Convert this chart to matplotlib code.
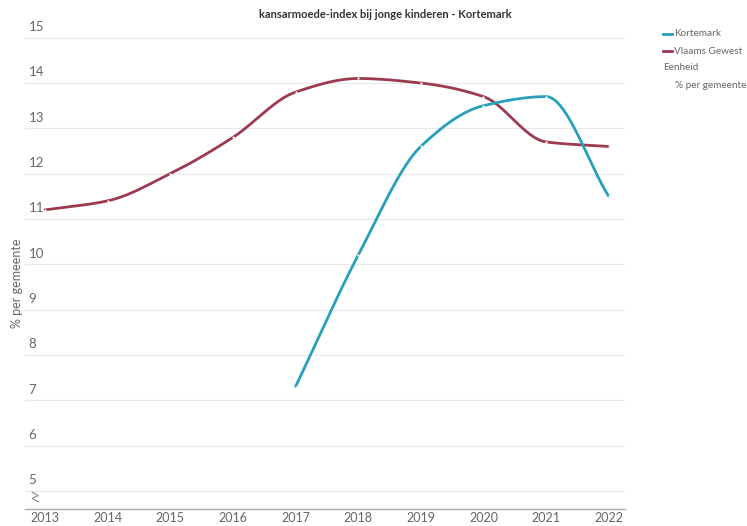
import numpy as np
import matplotlib
matplotlib.use("Agg")
import matplotlib.pyplot as plt
import matplotlib.transforms as mtransforms

plt.rcParams['font.family'] = ['Lato', 'DejaVu Sans']

# data
years = [2013, 2014, 2015, 2016, 2017, 2018, 2019, 2020, 2021, 2022]
vlaams = [11.2, 11.4, 12.0, 12.8, 13.8, 14.1, 14.0, 13.7, 12.7, 12.6]
kort_years = [2017, 2018, 2019, 2020, 2021, 2022]
kortemark = [7.3, 10.2, 12.6, 13.5, 13.7, 11.5]
y_ticks = [5, 6, 7, 8, 9, 10, 11, 12, 13, 14, 15]

C_KORT = "#2a9fbb"
C_VL = "#9c3a4f"
GREY = "#666666"


def monotone(x, y, n=40):
    # monotone cubic (Fritsch-Carlson) just for drawing the smooth line
    x = np.asarray(x, float)
    y = np.asarray(y, float)
    h = np.diff(x)
    d = np.diff(y) / h
    m = np.zeros_like(y)
    m[0], m[-1] = d[0], d[-1]
    for i in range(1, len(y) - 1):
        if d[i - 1] * d[i] <= 0:
            m[i] = 0
        else:
            w1 = 2 * h[i] + h[i - 1]
            w2 = h[i] + 2 * h[i - 1]
            m[i] = (w1 + w2) / (w1 / d[i - 1] + w2 / d[i])
    xs, ys = [], []
    for i in range(len(x) - 1):
        t = np.linspace(0, 1, n)
        h00 = 2 * t**3 - 3 * t**2 + 1
        h10 = t**3 - 2 * t**2 + t
        h01 = -2 * t**3 + 3 * t**2
        h11 = t**3 - t**2
        xs.append(x[i] + t * h[i])
        ys.append(h00 * y[i] + h10 * h[i] * m[i] + h01 * y[i + 1] + h11 * h[i] * m[i + 1])
    return np.concatenate(xs), np.concatenate(ys)


fig = plt.figure(figsize=(7.47, 5.26), dpi=100)
ax = fig.add_axes([25 / 747, 1 - 509 / 526, 600 / 747, 479 / 526])
ax.set_xlim(2012.68, 2022.26)
ax.set_ylim(4.6, 15.17)

for v in y_ticks:
    ax.axhline(v, color="#e8e8e8", lw=0.8, zorder=0)
    ax.text(0.006, v + 0.1, str(v), transform=mtransforms.blended_transform_factory(ax.transAxes, ax.transData),
            fontsize=9.5, color=GREY, ha="left", va="bottom")

for xs, ys, c in [(years, vlaams, C_VL), (kort_years, kortemark, C_KORT)]:
    sx, sy = monotone(xs, ys)
    ax.plot(sx, sy, color=c, lw=2, solid_capstyle="round", zorder=3)
    ax.plot(xs, ys, ls="none", marker="o", ms=1.6, mfc="white", mec="none", zorder=4)

for s in ["top", "right", "left"]:
    ax.spines[s].set_visible(False)
ax.spines["bottom"].set_color("#aaaaaa")
ax.spines["bottom"].set_linewidth(1)
ax.set_yticks([])
ax.set_xticks(years)
ax.set_xticklabels([str(y) for y in years], fontsize=9, color=GREY)
ax.tick_params(axis="x", length=0, pad=2.5)

# axis break mark
zx = np.array([0.012, 0.022, 0.012, 0.022])
zy = np.array([0.035, 0.028, 0.022, 0.015])
ax.plot(zx, zy, transform=ax.transAxes, color="#888888", lw=0.8, clip_on=False)

fig.text(17 / 747, 1 - 283 / 526, "% per gemeente", rotation=90, fontsize=9, color=GREY, ha="center", va="center")
fig.text(385 / 747, 1 - 14 / 526, "kansarmoede-index bij jonge kinderen - Kortemark", fontsize=8,
         fontweight="bold", color="#333333", ha="center", va="center")

# legend
for yy, c, lab in [(34, C_KORT, "Kortemark"), (51, C_VL, "Vlaams Gewest")]:
    fig.add_artist(plt.Line2D([663 / 747, 672 / 747], [1 - yy / 526] * 2, color=c, lw=2))
    fig.text(674 / 747, 1 - yy / 526, lab, fontsize=7.2, color=GREY, va="center")
fig.text(663 / 747, 1 - 68 / 526, "Eenheid", fontsize=7.2, color=GREY, va="center")
fig.text(675 / 747, 1 - 85 / 526, "% per gemeente", fontsize=7.2, color=GREY, va="center")

fig.savefig("out.png", dpi=100, facecolor="white")
